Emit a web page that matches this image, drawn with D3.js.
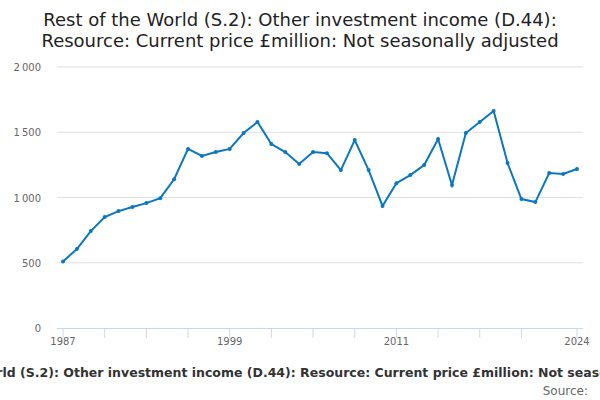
<!DOCTYPE html><html><head><meta charset="utf-8"><script src="https://cdn.jsdelivr.net/npm/d3@7"></script>
<style>body{margin:0;background:#fff}text{font-family:"DejaVu Sans",sans-serif}</style></head><body><svg width="600" height="400"></svg>
<script>
const years=d3.range(1987,2025);
const values=[510,605,743,850,896,927,957,995,1140,1372,1318,1348,1372,1494,1578,1410,1348,1257,1348,1340,1210,1440,1210,935,1110,1172,1249,1448,1095,1494,1578,1663,1264,988,965,1188,1180,1218];
const yTicks=[0,500,1000,1500,2000];
const xLabels=[1987,1999,2011,2024];
const tickYears=[1987,1990,1993,1996,1999,2002,2005,2008,2011,2014,2017,2020,2024];
const svg=d3.select("svg");
const x=d3.scaleLinear().domain([1987,2024]).range([63,577]);
const y=d3.scaleLinear().domain([0,2000]).range([328,67]);
svg.append("text").attr("x",300).attr("y",26).attr("text-anchor","middle").attr("font-size",18).attr("fill","#222").text("Rest of the World (S.2): Other investment income (D.44):");
svg.append("text").attr("x",300).attr("y",47).attr("text-anchor","middle").attr("font-size",18).attr("fill","#222").text("Resource: Current price £million: Not seasonally adjusted");
yTicks.forEach(t=>{
 if(t>0)svg.append("line").attr("x1",57).attr("x2",583).attr("y1",y(t)).attr("y2",y(t)).attr("stroke","#e0e0e0");
 svg.append("text").attr("x",41).attr("y",y(t)+4).attr("text-anchor","end").attr("font-size",10).attr("fill","#666").text(d3.format(",")(t).replace(",","\u2009"));
});
svg.append("line").attr("x1",57).attr("x2",583).attr("y1",328.5).attr("y2",328.5).attr("stroke","#ccd6eb");
tickYears.forEach(t=>svg.append("line").attr("x1",x(t)).attr("x2",x(t)).attr("y1",328).attr("y2",338).attr("stroke","#ccd6eb"));
xLabels.forEach(t=>svg.append("text").attr("x",x(t)).attr("y",345).attr("text-anchor","middle").attr("font-size",10).attr("fill","#666").text(t));
const line=d3.line().x((d,i)=>x(years[i])).y(d=>y(d));
svg.append("path").datum(values).attr("d",line).attr("fill","none").attr("stroke","#0a77c0").attr("stroke-width",2);
svg.selectAll("circle").data(values).join("circle").attr("cx",(d,i)=>x(years[i])).attr("cy",d=>y(d)).attr("r",2).attr("fill","#0a77c0");
svg.append("text").attr("x",300).attr("y",377).attr("text-anchor","middle").attr("font-size",12.5).attr("font-weight","bold").attr("fill","#333").text("Rest of the World (S.2): Other investment income (D.44): Resource: Current price £million: Not seasonally adjusted");
svg.append("text").attr("x",588).attr("y",395).attr("text-anchor","end").attr("font-size",12).attr("fill","#666").text("Source:");
</script></body></html>
